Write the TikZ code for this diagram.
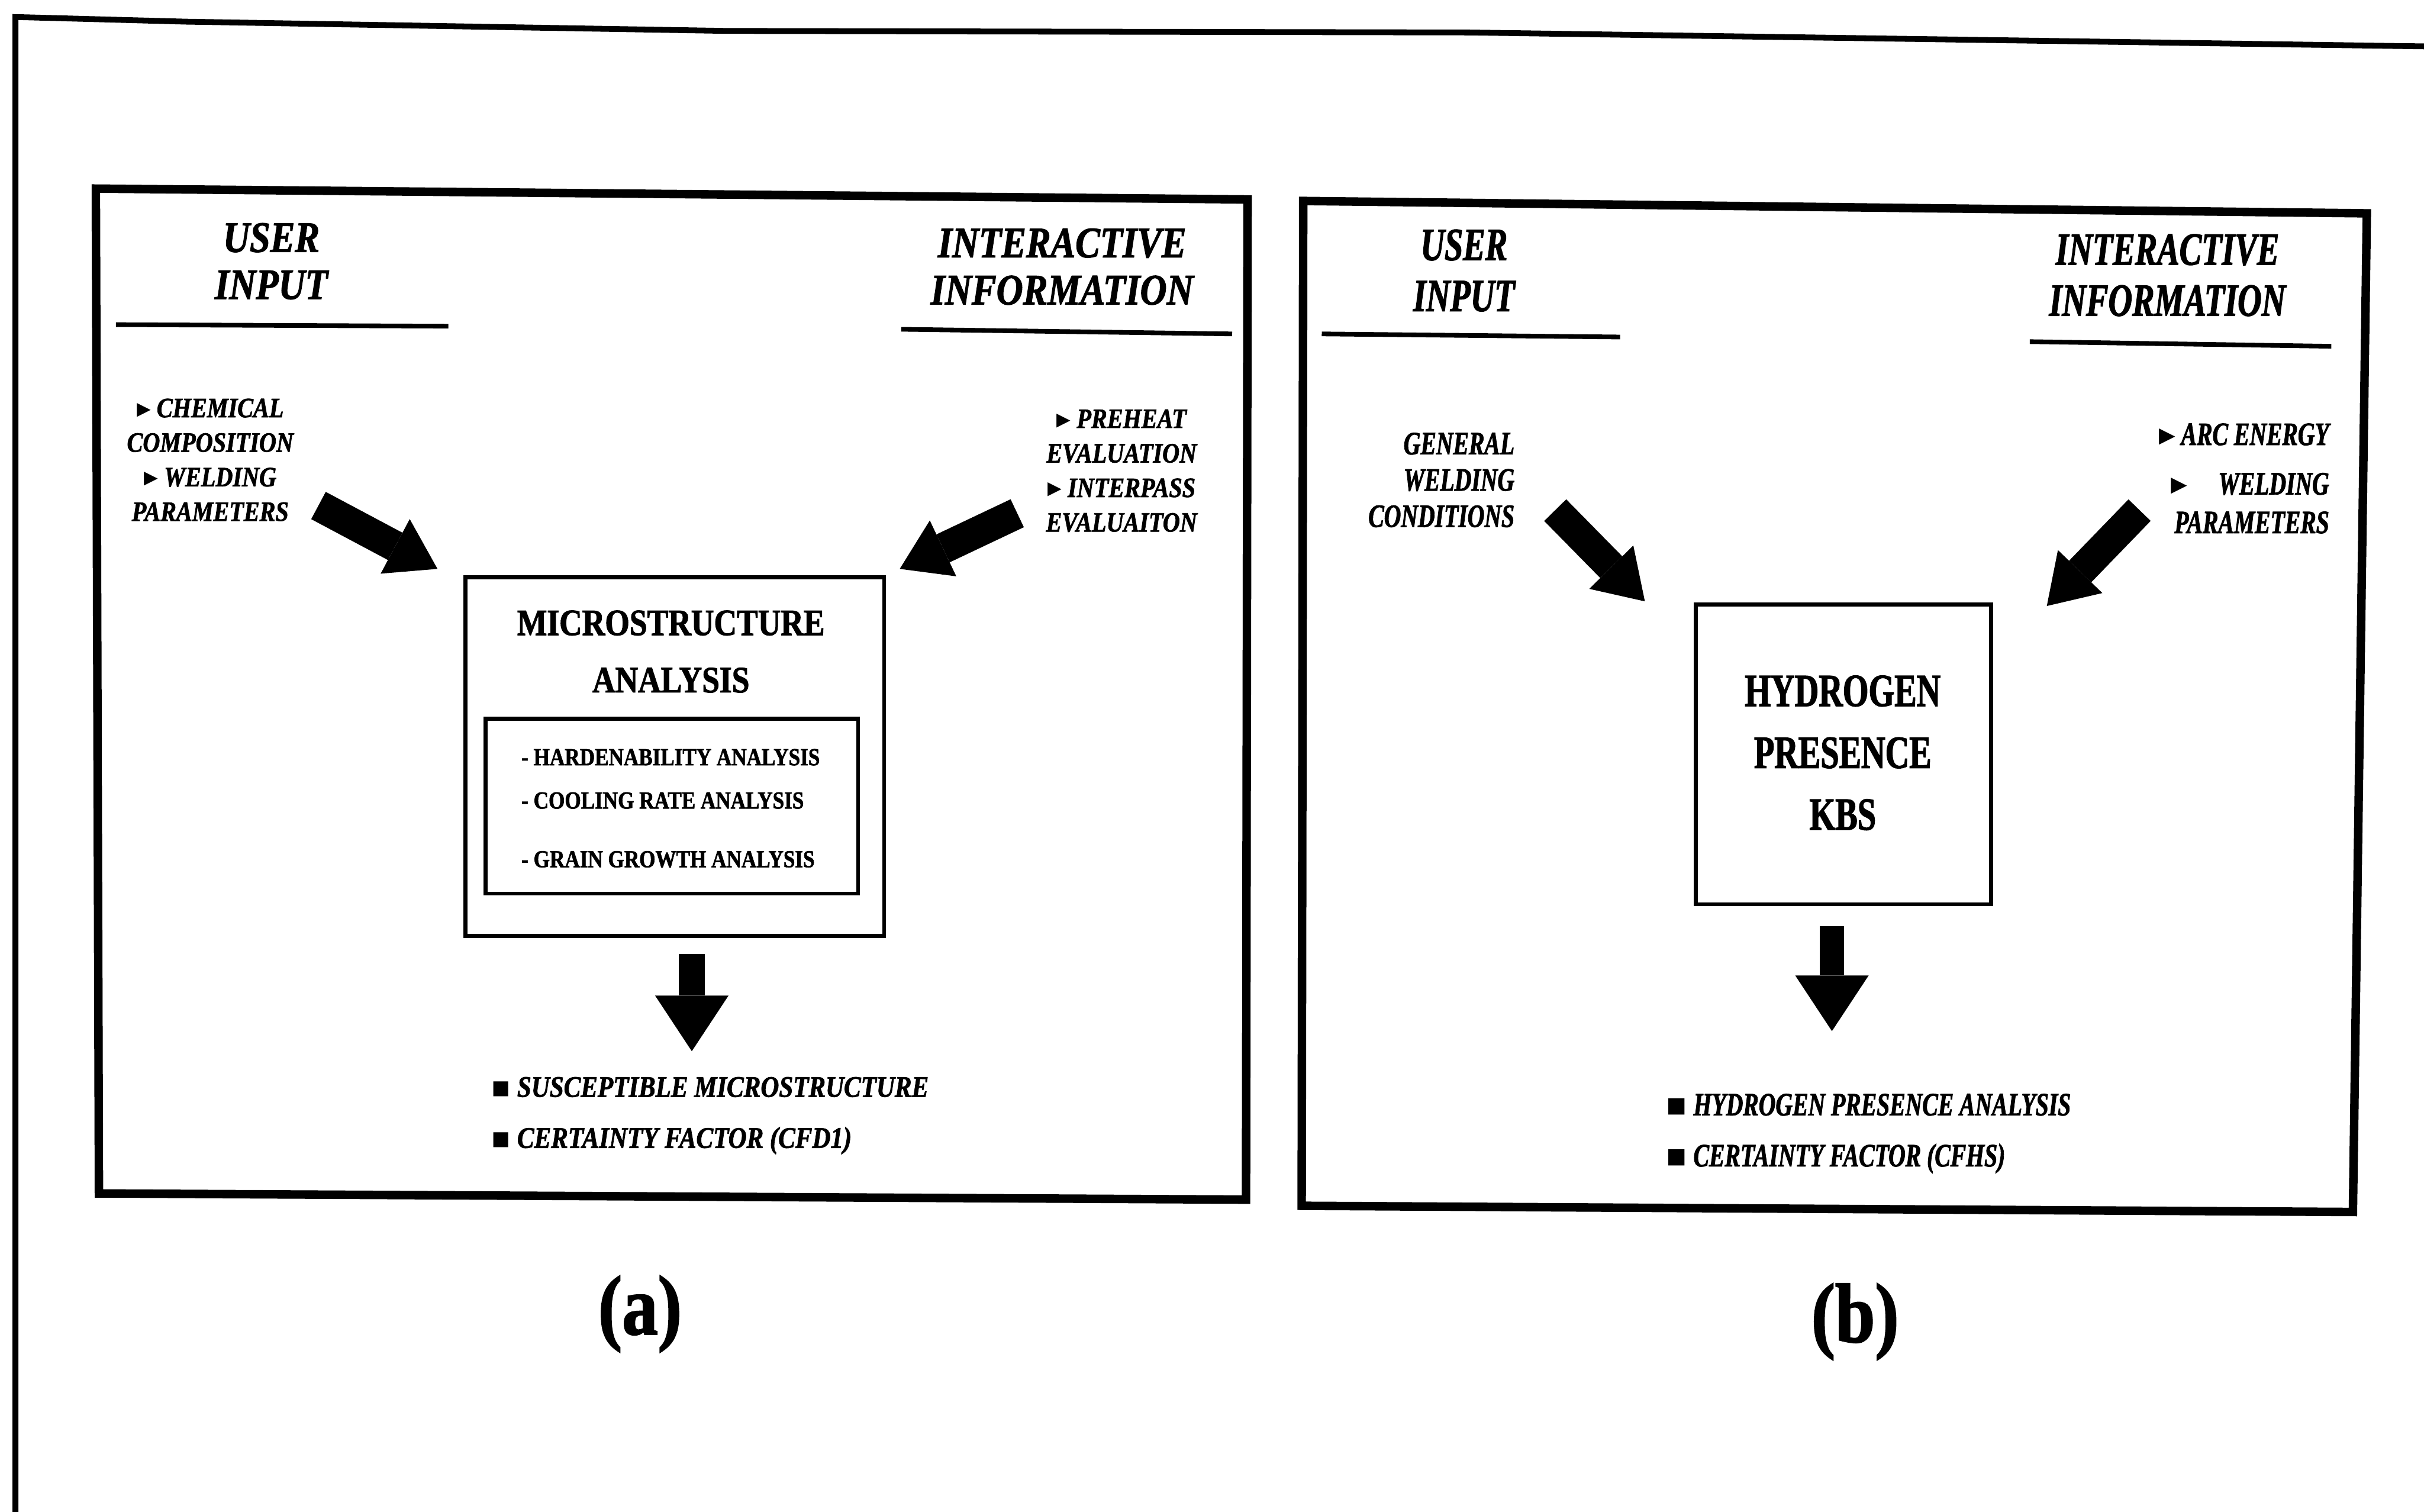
\documentclass[tikz,border=0pt]{standalone}
\usepackage{fontspec}
\setmainfont{Liberation Serif}
\newfontfamily\figa[FakeStretch=0.85, FakeBold=1.6]{Liberation Serif}
\newfontfamily\figb[FakeStretch=0.72, FakeBold=1.6]{Liberation Serif}
\newfontfamily\symb{DejaVu Sans}
\usetikzlibrary{arrows.meta}

\tikzstyle{frame} = [line width=0.6mm]
\tikzstyle{panel} = [line width=1.1mm]
\tikzstyle{rule} = [line width=0.6mm]
\tikzstyle{box} = [draw, line width=0.5mm, inner sep=0pt]
\tikzstyle{headA} = [font=\figa\bfseries\itshape\fontsize{16pt}{6.1mm}\selectfont, align=center, inner sep=0pt]
\tikzstyle{sideA} = [font=\figa\bfseries\itshape\fontsize{10.3pt}{4.47mm}\selectfont, align=center, inner sep=0pt]
\tikzstyle{titleA} = [font=\figa\bfseries\fontsize{13.7pt}{7.4mm}\selectfont, align=center, inner sep=0pt]
\tikzstyle{itemA} = [font=\figa\bfseries\fontsize{9pt}{10pt}\selectfont, inner sep=0pt]
\tikzstyle{outA} = [font=\figa\bfseries\itshape\fontsize{11pt}{13pt}\selectfont, inner sep=0pt]
\tikzstyle{headB} = [font=\figb\bfseries\itshape\fontsize{17pt}{6.6mm}\selectfont, align=center, inner sep=0pt]
\tikzstyle{sideB} = [font=\figb\bfseries\itshape\fontsize{12pt}{4.7mm}\selectfont, align=right, inner sep=0pt]
\tikzstyle{titleB} = [font=\figb\bfseries\fontsize{17pt}{8mm}\selectfont, align=center, inner sep=0pt]
\tikzstyle{outB} = [font=\figb\bfseries\itshape\fontsize{12pt}{14pt}\selectfont, inner sep=0pt]
\tikzstyle{caption} = [font=\figa\bfseries\fontsize{31pt}{36pt}\selectfont, inner sep=0pt]
\tikzstyle{blockarrow} = [line width=4mm, -{Triangle[width=8mm,length=6.2mm,line width=0pt]}]
\tikzstyle{droparrow} = [line width=3.3mm, -{Triangle[width=9.5mm,length=7.2mm,line width=0pt]}]

\begin{document}
\begin{tikzpicture}[x=0.2mm, y=-0.2mm]
\useasboundingbox (0,0) rectangle (1568,978);

% outer frame (top and left only)
\draw[frame, line width=0.75mm] (10,978) -- (10,11) -- (120,14) -- (470,20) -- (950,21) -- (1568,30);

%%% (a) microstructure
\draw[panel] (62,122) -- (807,129) -- (806,776) -- (64,772) -- cycle;

\node[headA] (userA) at (175.5,169) {USER\\INPUT};
\draw[rule] (75,210) -- (290,211);
\node[headA] (infoA) at (687,172.5) {INTERACTIVE\\INFORMATION};
\draw[rule] (583,213) -- (797,216);

\node[sideA] (inA) at (136,297.5) {{\symb ▸} CHEMICAL\\COMPOSITION\\{\symb ▸} WELDING\\PARAMETERS};
\node[sideA] (infA) at (725.5,304.5) {{\symb ▸} PREHEAT\\EVALUATION\\{\symb ▸} INTERPASS\\EVALUAITON};

\node[box, minimum width=54.2mm, minimum height=46.4mm] (micro) at (436.5,489.5) {};
\node[titleA] (microT) at (434,421.5) {MICROSTRUCTURE\\ANALYSIS};
\node[box, minimum width=48.2mm, minimum height=22.6mm] (sub) at (434.5,521.5) {};
\node[itemA, anchor=base west] (hard) at (337,495) {- HARDENABILITY ANALYSIS};
\node[itemA, anchor=base west] (cool) at (337,523) {- COOLING RATE ANALYSIS};
\node[itemA, anchor=base west] (grain) at (337,561) {- GRAIN GROWTH ANALYSIS};

\coordinate (inAtail) at (206,327);
\coordinate (inAtip) at (283,368);
\draw[blockarrow] (inAtail) -- (inAtip);
\coordinate (infAtail) at (658,332);
\coordinate (infAtip) at (582,368);
\draw[blockarrow] (infAtail) -- (infAtip);
\coordinate (outAtail) at (447.5,617);
\coordinate (outAtip) at (447.5,680);
\draw[droparrow] (outAtail) -- (outAtip);

\node[outA, anchor=base west] (suscept) at (317,709.5) {{\symb ▪} SUSCEPTIBLE MICROSTRUCTURE};
\node[outA, anchor=base west] (cfA) at (317,742.5) {{\symb ▪} CERTAINTY FACTOR (CFD1)};

\node[caption] (capA) at (414,850) {(a)};

%%% (b) hydrogen presence
\draw[panel] (843,130) -- (1531,138) -- (1522,784) -- (842,780) -- cycle;

\node[headB] (userB) at (947,175) {USER\\INPUT};
\draw[rule] (855,216) -- (1048,218);
\node[headB] (infoB) at (1402,178) {INTERACTIVE\\INFORMATION};
\draw[rule] (1313,221) -- (1508,224);

\node[sideB, anchor=east] (inB) at (980,310.5) {GENERAL\\WELDING\\CONDITIONS};
\node[sideB, anchor=east] (infB) at (1507,309.5) {{\symb ▸} ARC ENERGY\\[1.7mm]{\symb ▸}\hspace{4mm}WELDING\\[0.3mm]PARAMETERS};

\node[box, minimum width=38.2mm, minimum height=38.8mm] (hydro) at (1192.5,488) {};
\node[titleB] (hydroT) at (1192,487) {HYDROGEN\\PRESENCE\\KBS};

\coordinate (inBtail) at (1006,330);
\coordinate (inBtip) at (1064,389);
\draw[blockarrow] (inBtail) -- (inBtip);
\coordinate (infBtail) at (1384,330);
\coordinate (infBtip) at (1324,392);
\draw[blockarrow] (infBtail) -- (infBtip);
\coordinate (outBtail) at (1185,599);
\coordinate (outBtip) at (1185,667);
\draw[droparrow, line width=3.2mm] (outBtail) -- (outBtip);

\node[outB, anchor=base west] (hpa) at (1077,721.5) {{\symb ▪} HYDROGEN PRESENCE ANALYSIS};
\node[outB, anchor=base west] (cfB) at (1077,754.5) {{\symb ▪} CERTAINTY FACTOR (CFHS)};

\node[caption] (capB) at (1200,855) {(b)};
\end{tikzpicture}
\end{document}
